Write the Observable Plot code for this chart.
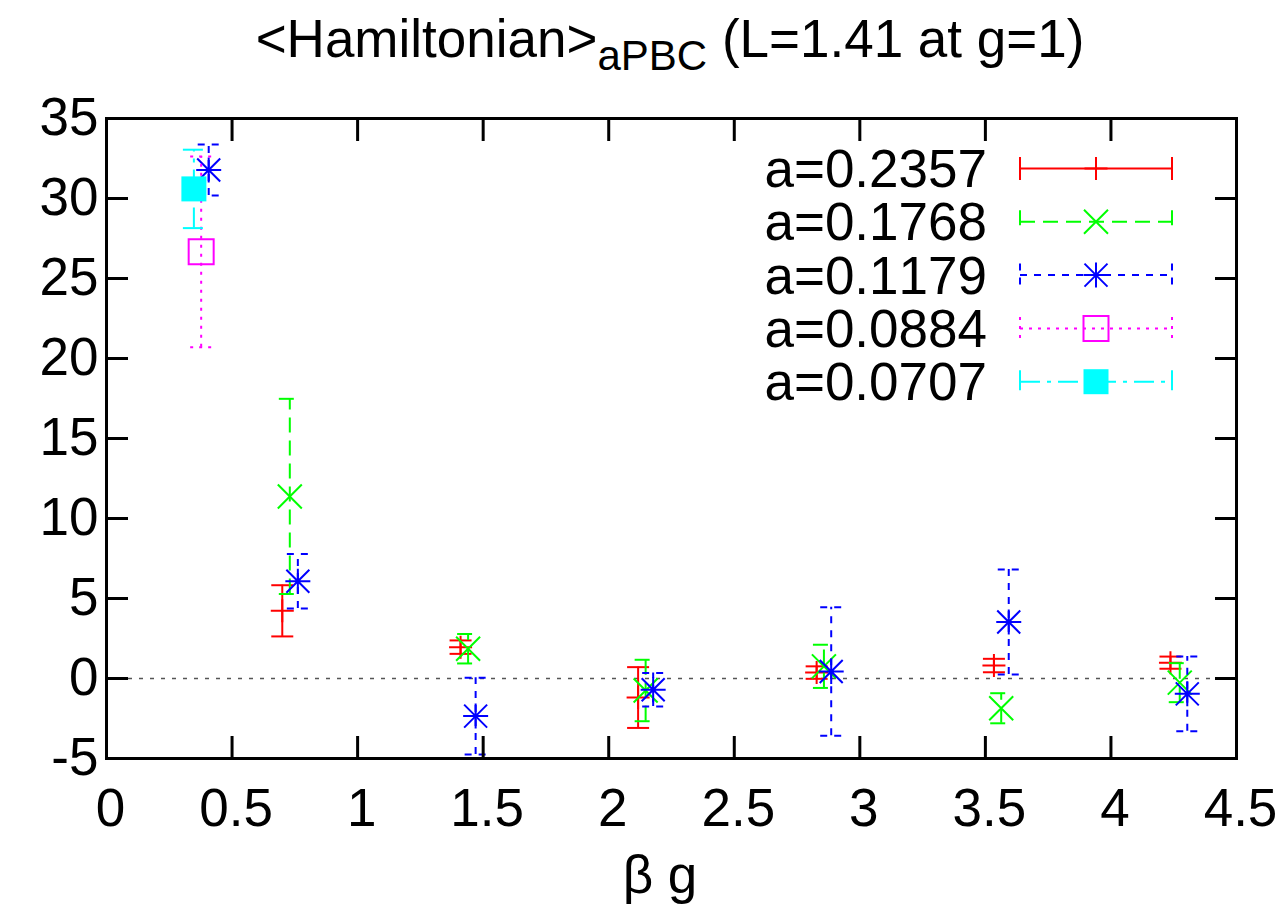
<!DOCTYPE html>
<html><head><meta charset="utf-8">
<script src="https://cdn.jsdelivr.net/npm/d3@7"></script>
<script src="https://cdn.jsdelivr.net/npm/@observablehq/plot@0.6"></script>
<style>body{margin:0;background:#fff} svg{display:block} svg text{font-kerning:none}</style>
</head><body><div id="chart"></div>
<script>
// ---- data ----
const seriesLabels = ["a=0.2357", "a=0.1768", "a=0.1179", "a=0.0884", "a=0.0707"];

const xA2357 = [0.700, 1.410, 2.117, 2.828, 3.534, 4.237];
const yA2357 = [4.23, 1.96, -1.19, 0.37, 0.81, 0.99];
const eA2357 = [1.60, 0.42, 1.90, 0.39, 0.42, 0.38];

const xA1768 = [0.730, 1.440, 2.147, 2.857, 3.563, 4.274];
const yA1768 = [11.38, 1.86, -0.75, 0.76, -1.86, -0.26];
const eA1768 = [6.10, 0.92, 1.92, 1.35, 0.94, 1.22];

const xA1179 = [0.407, 0.762, 1.470, 2.177, 2.886, 3.593, 4.304];
const yA1179 = [31.78, 6.08, -2.35, -0.70, 0.44, 3.53, -0.96];
const eA1179 = [1.60, 1.70, 2.40, 1.05, 4.02, 3.28, 2.33];

const xA0884 = [0.377];
const yA0884 = [26.67];
const eA0884 = [5.96];

const xA0707 = [0.348];
const yA0707 = [30.60];
const eA0707 = [2.45];

const xTicks = [0, 0.5, 1, 1.5, 2, 2.5, 3, 3.5, 4, 4.5];
const yTicks = [-5, 0, 5, 10, 15, 20, 25, 30, 35];

const titleMain = "<Hamiltonian>";
const titleSub = "aPBC";
const titleRest = " (L=1.41 at g=1)";
const xLabel = "β g";

// ---- styles ----
const colors = ["#ff0000", "#00ff00", "#0000ff", "#ff00ff", "#00ffff"];
const dashes = [null, "15,8", "7,7", "3,6", "20,7,4,7"];

const rad = (size) => Math.sqrt(size / Math.PI);
const symPlus = {draw(c, s){const h = rad(s); c.moveTo(-h,0); c.lineTo(h,0); c.moveTo(0,-h); c.lineTo(0,h);}};
const symTimes = {draw(c, s){const h = rad(s); c.moveTo(-h,-h); c.lineTo(h,h); c.moveTo(-h,h); c.lineTo(h,-h);}};
const symStar = {draw(c, s){const h = rad(s); c.moveTo(-h,0); c.lineTo(h,0); c.moveTo(0,-h); c.lineTo(0,h);
  const d = h*0.92; c.moveTo(-d,-d); c.lineTo(d,d); c.moveTo(-d,d); c.lineTo(d,-d);}};
const symSquare = {draw(c, s){const h = rad(s); c.moveTo(-h,-h); c.lineTo(h,-h); c.lineTo(h,h); c.lineTo(-h,h); c.closePath();}};
const symHCap = {draw(c, s){const h = rad(s); c.moveTo(-h,0); c.lineTo(h,0);}};
const symVCap = {draw(c, s){const h = rad(s); c.moveTo(0,-h); c.lineTo(0,h);}};

const symbols = [symPlus, symTimes, symStar, symSquare, symSquare];
const symR = [11.5, 12, 12.5, 12.5, 12.5];
const filled = [false, false, false, false, true];

const rawSeries = [
  [xA2357, yA2357, eA2357],
  [xA1768, yA1768, eA1768],
  [xA1179, yA1179, eA1179],
  [xA0884, yA0884, eA0884],
  [xA0707, yA0707, eA0707]
];

const FONT = "'Liberation Sans', Arial, Helvetica, sans-serif";
const FS = 53;

const marks = [];
marks.push(Plot.ruleY([0], {stroke: "#555", strokeWidth: 1.5, strokeDasharray: "4,7"}));

rawSeries.forEach(([xs, ys, es], i) => {
  const rows = xs.map((x, j) => ({x, y: ys[j], lo: ys[j] - es[j], hi: ys[j] + es[j]}));
  const lineOpts = {stroke: colors[i], strokeWidth: 2, strokeDasharray: dashes[i] || undefined};
  marks.push(Plot.ruleX(rows, {x: "x", y1: "lo", y2: "hi", ...lineOpts}));
  marks.push(Plot.dot(rows, {x: "x", y: "hi", symbol: symHCap, r: 11, fill: "none", ...lineOpts}));
  marks.push(Plot.dot(rows, {x: "x", y: "lo", symbol: symHCap, r: 11, fill: "none", ...lineOpts}));
  marks.push(Plot.dot(rows, {x: "x", y: "y", symbol: symbols[i], r: symR[i],
    fill: filled[i] ? colors[i] : "none",
    stroke: filled[i] ? "none" : colors[i], strokeWidth: 2}));
});

// axes: labels
marks.push(Plot.axisX(xTicks, {anchor: "bottom", tickSize: 0, tickPadding: 30, dx: 4, label: null,
  tickFormat: d => String(d), fontSize: FS, fill: "black"}));
marks.push(Plot.axisY(yTicks, {anchor: "left", tickSize: 0, tickPadding: 8, label: null,
  tickFormat: d => String(d), fontSize: FS, fill: "black"}));
// inward mirrored ticks
const TK = 22;
marks.push(Plot.axisX(xTicks, {anchor: "bottom", tickSize: TK, dy: -TK, fill: "none", label: null, stroke: "black", strokeWidth: 3}));
marks.push(Plot.axisX(xTicks, {anchor: "top", tickSize: TK, dy: TK, fill: "none", label: null, stroke: "black", strokeWidth: 3}));
marks.push(Plot.axisY(yTicks, {anchor: "left", tickSize: TK, dx: TK, fill: "none", label: null, stroke: "black", strokeWidth: 3}));
marks.push(Plot.axisY(yTicks, {anchor: "right", tickSize: TK, dx: -TK, fill: "none", label: null, stroke: "black", strokeWidth: 3}));
marks.push(Plot.frame({stroke: "black", strokeWidth: 3}));

const chart = Plot.plot({
  width: 1287,
  height: 924,
  marginLeft: 106,
  marginRight: 51,
  marginTop: 118,
  marginBottom: 166,
  x: {domain: [0, 4.5]},
  y: {domain: [-5, 35]},
  style: {fontFamily: FONT, fontSize: FS + "px", color: "black", background: "white", overflow: "visible"},
  marks
});
document.getElementById("chart").appendChild(chart);

const svg = d3.select(chart);

// title
const t = svg.append("text")
  .attr("x", 670).attr("y", 57)
  .attr("text-anchor", "middle")
  .attr("font-family", FONT).attr("font-size", 53).attr("fill", "black");
t.append("tspan").text(titleMain);
t.append("tspan").attr("font-size", 42).attr("dy", 13).text(titleSub);
t.append("tspan").attr("dy", -13).text(titleRest);

// x label
svg.append("text")
  .attr("x", 660).attr("y", 893)
  .attr("text-anchor", "middle")
  .attr("font-family", FONT).attr("font-size", FS).attr("fill", "black")
  .text(xLabel);

// legend
const lg = svg.append("g");
seriesLabels.forEach((lab, i) => {
  const yy = 168.5 + i * 53.3;
  lg.append("text").attr("x", 987).attr("y", yy).attr("dy", "0.35em")
    .attr("text-anchor", "end").attr("font-family", FONT).attr("font-size", FS).attr("fill", "black")
    .style("font-kerning", "none")
    .text(lab);
  const dash = dashes[i];
  lg.append("line").attr("x1", 1020).attr("x2", 1172).attr("y1", yy).attr("y2", yy)
    .attr("stroke", colors[i]).attr("stroke-width", 2).attr("stroke-dasharray", dash);
  [1020, 1172].forEach(xx => {
    lg.append("path").attr("transform", `translate(${xx},${yy})`)
      .attr("d", d3.symbol(symVCap, Math.PI * 11.5 * 11.5)())
      .attr("fill", "none").attr("stroke", colors[i]).attr("stroke-width", 2)
      .attr("stroke-dasharray", dash);
  });
  lg.append("path").attr("transform", `translate(1096,${yy})`)
    .attr("d", d3.symbol(symbols[i], Math.PI * symR[i] * symR[i])())
    .attr("fill", filled[i] ? colors[i] : "none")
    .attr("stroke", filled[i] ? "none" : colors[i]).attr("stroke-width", 2);
});
</script>
</body></html>
